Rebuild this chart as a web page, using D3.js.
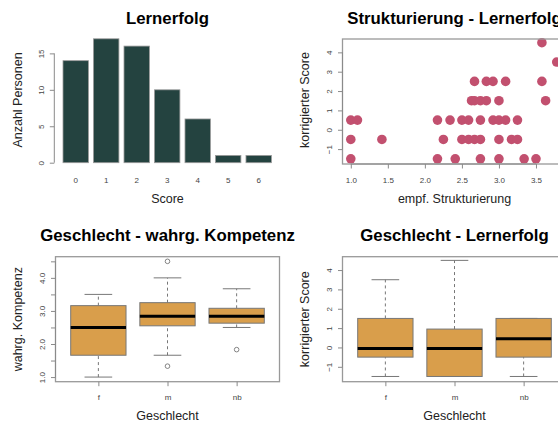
<!DOCTYPE html>
<html>
<head>
<meta charset="utf-8">
<script src="https://cdn.jsdelivr.net/npm/d3@7"></script>
<style>
  body { margin: 0; background: #fff; }
  svg { display: block; font-family: 'Liberation Sans', Arial, sans-serif; }
</style>
</head>
<body>
<svg id="chart"></svg>
<script>
// --- data ---
let scores = ['0', '1', '2', '3', '4', '5', '6']
let counts = [14, 17, 16, 10, 6, 1, 1]

// Strukturierung (x) vs. korrigierter Score (y)
let strukX = [3.58, 3.78,
  2.67, 2.83, 2.92, 3.09, 3.58,
  2.63, 2.67, 2.75, 2.83, 3.0, 3.63,
  1.0, 1.09, 2.17, 2.34, 2.5, 2.59, 2.75, 2.92, 3.0, 3.09, 3.25,
  1.0, 1.42, 2.25, 2.5, 2.59, 2.67, 2.75, 3.0, 3.17, 3.25,
  1.0, 2.17, 2.41, 2.75, 3.0, 3.34, 3.5]
let strukY = [4.5, 3.5,
  2.5, 2.5, 2.5, 2.5, 2.5,
  1.5, 1.5, 1.5, 1.5, 1.5, 1.5,
  0.5, 0.5, 0.5, 0.5, 0.5, 0.5, 0.5, 0.5, 0.5, 0.5, 0.5,
  -0.5, -0.5, -0.5, -0.5, -0.5, -0.5, -0.5, -0.5, -0.5, -0.5,
  -1.5, -1.5, -1.5, -1.5, -1.5, -1.5, -1.5]

let groups = ['f', 'm', 'nb']
// [lower whisker, Q1, median, Q3, upper whisker]
let kompStats = [[1.0, 1.66, 2.5, 3.16, 3.5], [1.66, 2.55, 2.84, 3.25, 4.0], [2.5, 2.63, 2.84, 3.08, 3.67]]
let kompOutliers = [[], [4.5, 1.33], [1.83]]
let scoreStats = [[-1.5, -0.5, -0.05, 1.5, 3.5], [-1.5, -1.5, -0.05, 0.95, 4.5], [-1.5, -0.5, 0.45, 1.5, 1.5]]
let scoreOutliers = [[], [], []]

let kompTicks = [1.0, 1.5, 2.0, 2.5, 3.0, 3.5, 4.0, 4.5]
let scoreTicks = [-1, 0, 1, 2, 3, 4]
let strukTicks = [1.0, 1.5, 2.0, 2.5, 3.0, 3.5]
let countTicks = [0, 5, 10, 15]

// --- layout ---
let width = 558
let height = 423
let colL = [55.5, 279.5]
let colR = [342.5, 566.5]
let rowT = [39, 164]
let rowB = [256.7, 381.7]
let axisCol = '#8a8a8a'
let textCol = '#444'

let svg = d3.select('#chart').attr('width', width).attr('height', height)

let title = (text, cx, y) => {
  svg.append('text').attr('x', cx).attr('y', y)
    .attr('text-anchor', 'middle').attr('font-size', 16.8).attr('font-weight', 'bold')
    .attr('fill', '#000').text(text)
}

let xTitle = (text, cx, y) => {
  svg.append('text').attr('x', cx).attr('y', y)
    .attr('text-anchor', 'middle').attr('font-size', 12.5).attr('fill', '#222').text(text)
}

let yTitle = (text, x, cy) => {
  svg.append('text').attr('transform', 'translate(' + x + ',' + cy + ') rotate(-90)')
    .attr('text-anchor', 'middle').attr('font-size', 12.5).attr('fill', '#222').text(text)
}

// R-style axis: line only from first to last tick, vertical labels on the y axis
let leftAxis = (scale, ticks, x, fmt) => {
  let g = svg.append('g').attr('transform', 'translate(' + x + ',0)')
  g.call(d3.axisLeft(scale).tickValues(ticks).tickSize(4.5).tickSizeOuter(0).tickFormat(fmt))
  g.select('.domain').remove()
  g.append('line')
    .attr('y1', scale(d3.min(ticks))).attr('y2', scale(d3.max(ticks)))
    .attr('stroke', axisCol)
  g.selectAll('.tick line').attr('stroke', axisCol)
  g.selectAll('.tick text')
    .attr('transform', 'rotate(-90)')
    .attr('x', 0).attr('y', -10.5).attr('dy', 0)
    .attr('text-anchor', 'middle')
    .attr('font-size', 8).attr('fill', textCol)
    .attr('font-family', "'Liberation Sans', Arial, sans-serif")
  return g
}

let bottomAxis = (scale, ticks, y, fmt, line) => {
  let g = svg.append('g').attr('transform', 'translate(0,' + y + ')')
  g.call(d3.axisBottom(scale).tickValues(ticks).tickSize(4.5).tickSizeOuter(0).tickFormat(fmt))
  g.select('.domain').remove()
  if (line) {
    g.append('line')
      .attr('x1', scale(ticks[0])).attr('x2', scale(ticks[ticks.length - 1]))
      .attr('stroke', axisCol)
  }
  g.selectAll('.tick line').attr('stroke', axisCol)
  g.selectAll('.tick text')
    .attr('y', 18.5).attr('dy', 0)
    .attr('font-size', 8).attr('fill', textCol)
    .attr('font-family', "'Liberation Sans', Arial, sans-serif")
  return g
}

let frame = (xr, yr) => {
  svg.append('rect')
    .attr('x', xr[0]).attr('y', yr[0])
    .attr('width', xr[1] - xr[0]).attr('height', yr[1] - yr[0])
    .attr('fill', 'none').attr('stroke', '#999').attr('stroke-width', 1.3)
}

// --- panel 1: Lernerfolg (bar chart) ---
let drawBars = () => {
  let xScale = d3.scaleBand().domain(scores).range([63, 271.4]).paddingInner(0.2 / 1.2).paddingOuter(0)
  let yScale = d3.scaleLinear().domain([0, 17]).range([162.7, 38.8])

  svg.append('g').selectAll('rect')
    .data(counts)
    .enter()
    .append('rect')
    .attr('x', (d, i) => xScale(scores[i]))
    .attr('y', (d) => yScale(d))
    .attr('width', xScale.bandwidth())
    .attr('height', (d) => yScale(0) - yScale(d))
    .attr('fill', '#244340')
    .attr('stroke', '#9a9a9a')
    .attr('stroke-width', 0.8)

  leftAxis(yScale, countTicks, 54.3, d3.format('d'))

  svg.append('g').selectAll('text')
    .data(scores)
    .enter()
    .append('text')
    .attr('x', (d) => xScale(d) + xScale.bandwidth() / 2)
    .attr('y', 182.5)
    .attr('text-anchor', 'middle').attr('font-size', 8).attr('fill', textCol)
    .text((d) => d)

  title('Lernerfolg', 167.5, 23.5)
  xTitle('Score', 167.5, 203)
  yTitle('Anzahl Personen', 22, 100)
}

// --- panel 2: Strukturierung - Lernerfolg (scatter) ---
let drawScatter = () => {
  let xScale = d3.scaleLinear().domain([0.888, 3.912]).range(colR)
  let yScale = d3.scaleLinear().domain([-1.77, 4.69]).range([rowT[1], rowT[0]])

  svg.append('g').selectAll('circle')
    .data(strukX)
    .enter()
    .append('circle')
    .attr('cx', (d) => xScale(d))
    .attr('cy', (d, i) => yScale(strukY[i]))
    .attr('r', 4.8)
    .attr('fill', '#c2506f')

  frame(colR, rowT)
  leftAxis(yScale, scoreTicks, colR[0], d3.format('d'))
  bottomAxis(xScale, strukTicks, rowT[1], d3.format('.1f'), true)

  title('Strukturierung - Lernerfolg', 454.5, 23.5)
  xTitle('empf. Strukturierung', 454.5, 202.5)
  yTitle('korrigierter Score', 309, 100)
}

// --- panels 3 and 4: boxplots ---
let drawBoxes = (xr, yr, domain, stats, outliers, ticks, fmt, titleText, yText) => {
  let xScale = d3.scaleLinear().domain([0.38, groups.length + 0.62]).range(xr)
  let yScale = d3.scaleLinear().domain(domain).range([yr[1], yr[0]])
  let boxW = xScale(0.8) - xScale(0)
  let capW = xScale(0.4) - xScale(0)

  let g = svg.append('g').selectAll('g')
    .data(stats)
    .enter()
    .append('g')

  // whiskers
  g.append('line')
    .attr('x1', (d, i) => xScale(i + 1)).attr('x2', (d, i) => xScale(i + 1))
    .attr('y1', (d) => yScale(d[0])).attr('y2', (d) => yScale(d[1]))
    .attr('stroke', '#777').attr('stroke-dasharray', '3,3')
  g.append('line')
    .attr('x1', (d, i) => xScale(i + 1)).attr('x2', (d, i) => xScale(i + 1))
    .attr('y1', (d) => yScale(d[3])).attr('y2', (d) => yScale(d[4]))
    .attr('stroke', '#777').attr('stroke-dasharray', '3,3')
  // caps
  g.append('line')
    .attr('x1', (d, i) => xScale(i + 1) - capW / 2).attr('x2', (d, i) => xScale(i + 1) + capW / 2)
    .attr('y1', (d) => yScale(d[0])).attr('y2', (d) => yScale(d[0]))
    .attr('stroke', '#777')
  g.append('line')
    .attr('x1', (d, i) => xScale(i + 1) - capW / 2).attr('x2', (d, i) => xScale(i + 1) + capW / 2)
    .attr('y1', (d) => yScale(d[4])).attr('y2', (d) => yScale(d[4]))
    .attr('stroke', '#777')
  // box
  g.append('rect')
    .attr('x', (d, i) => xScale(i + 1) - boxW / 2)
    .attr('y', (d) => yScale(d[3]))
    .attr('width', boxW)
    .attr('height', (d) => yScale(d[1]) - yScale(d[3]))
    .attr('fill', '#d99e4b').attr('stroke', '#777').attr('stroke-width', 1)
  // median
  g.append('line')
    .attr('x1', (d, i) => xScale(i + 1) - boxW / 2).attr('x2', (d, i) => xScale(i + 1) + boxW / 2)
    .attr('y1', (d) => yScale(d[2])).attr('y2', (d) => yScale(d[2]))
    .attr('stroke', '#000').attr('stroke-width', 3)
  // outliers
  g.selectAll('circle')
    .data((d, i) => outliers[i].map((v) => [i, v]))
    .enter()
    .append('circle')
    .attr('cx', (d) => xScale(d[0] + 1))
    .attr('cy', (d) => yScale(d[1]))
    .attr('r', 2.3)
    .attr('fill', 'none').attr('stroke', '#666').attr('stroke-width', 0.8)

  frame(xr, yr)
  leftAxis(yScale, ticks, xr[0], fmt)
  bottomAxis(xScale, [1, 2, 3], yr[1], (d) => groups[d - 1], false)

  let cx = (xr[0] + xr[1]) / 2
  title(titleText, cx, 240.5)
  xTitle('Geschlecht', cx, 420)
  yTitle(yText, xr[0] - 33.5, (yr[0] + yr[1]) / 2)
}

drawBars()
drawScatter()
drawBoxes(colL, rowB, [0.86, 4.64], kompStats, kompOutliers, kompTicks,
  (d) => (d % 1 === 0 ? d3.format('.1f')(d) : ''), 'Geschlecht - wahrg. Kompetenz', 'wahrg. Kompetenz')
drawBoxes(colR, rowB, [-1.77, 4.69], scoreStats, scoreOutliers, scoreTicks,
  d3.format('d'), 'Geschlecht - Lernerfolg', 'korrigierter Score')
</script>
</body>
</html>
